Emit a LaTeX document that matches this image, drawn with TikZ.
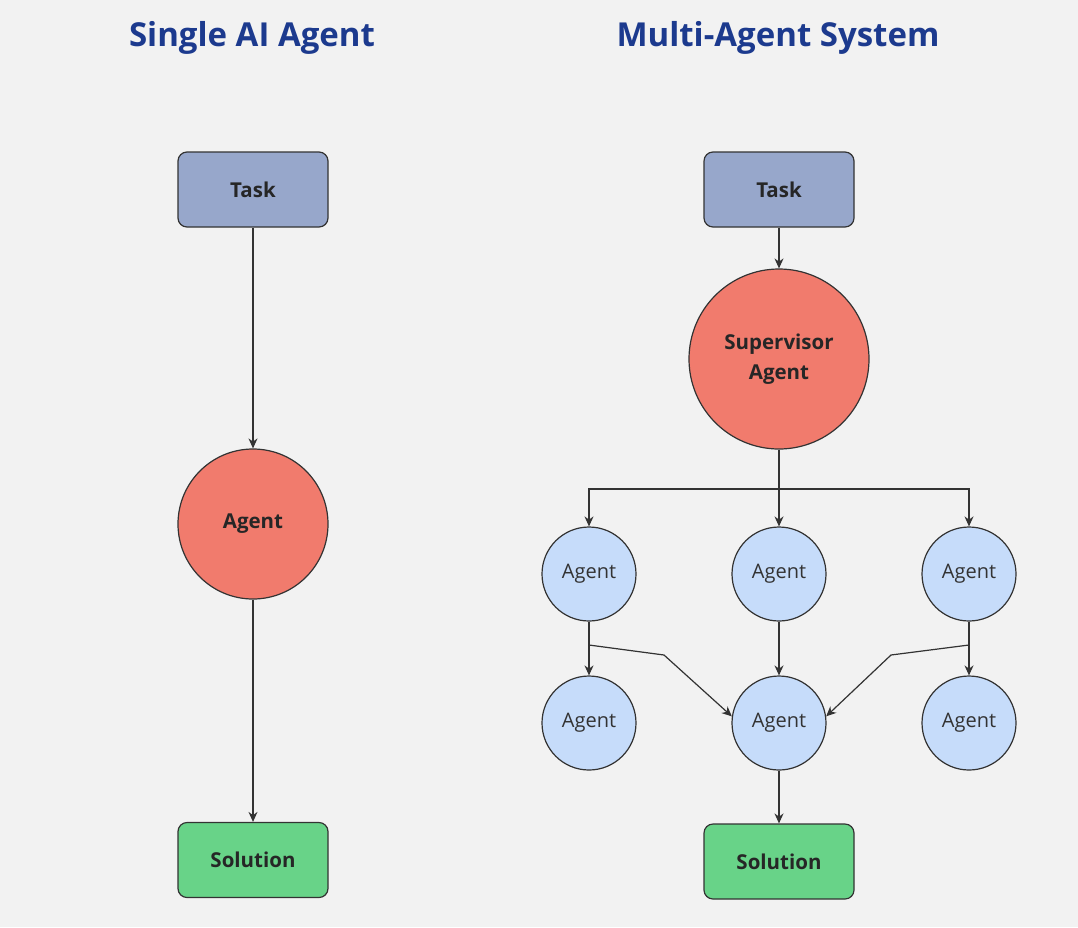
\documentclass[tikz,border=0pt]{standalone}
\usepackage{fontspec}
\setmainfont{Open Sans}
\usetikzlibrary{arrows.meta}
\definecolor{bg}{HTML}{F2F2F2}
\definecolor{taskc}{HTML}{97A7CB}
\definecolor{redc}{HTML}{F17B6D}
\definecolor{greenc}{HTML}{68D388}
\definecolor{bluec}{HTML}{C6DCFA}
\definecolor{titlec}{HTML}{1C3A8E}
\definecolor{linec}{HTML}{333333}
\begin{document}
\begin{tikzpicture}[x=1pt,y=-1pt,
 box/.style={draw=linec,line width=1.2pt,rounded corners=9pt,minimum width=150pt,minimum height=75pt,font=\fontsize{20.5}{24}\selectfont\bfseries,text=black!85},
 big/.style={draw=linec,line width=1.2pt,circle,fill=redc,font=\fontsize{20.5}{30}\selectfont\bfseries,align=center,text=black!85},
 ag/.style={draw=linec,line width=1.2pt,circle,fill=bluec,minimum size=94pt,inner sep=0pt,font=\fontsize{20}{24}\selectfont,text=black!80},
 arr/.style={draw=linec,line width=1.2pt,-{Stealth[length=10pt,width=9pt]}},
 ln/.style={draw=linec,line width=1.2pt},
 title/.style={font=\fontsize{33}{38}\selectfont\bfseries,text=titlec}]
\fill[bg] (0,0) rectangle (1078,927);
\useasboundingbox (0,0) rectangle (1078,927);
\node[title] (t1) at (252,38) {Single AI Agent};
\node[title] (t2) at (778,38) {Multi-Agent System};
% left
\node[box,fill=taskc] (lt) at (253,189.5) {Task};
\node[big,minimum size=150pt,inner sep=0pt] (la) at (253,524) {Agent};
\node[box,fill=greenc] (ls) at (253,860) {Solution};
\draw[arr] (lt) -- (la);
\draw[arr] (la) -- (ls);
% right
\node[box,fill=taskc] (rt) at (779,189.5) {Task};
\node[big,minimum size=180pt,inner sep=0pt] (sup) at (779,359) {Supervisor\\Agent};
\node[ag] (a1) at (589,574) {Agent};
\node[ag] (a2) at (779,574) {Agent};
\node[ag] (a3) at (969,574) {Agent};
\node[ag] (b1) at (589,723) {Agent};
\node[ag] (b2) at (779,723) {Agent};
\node[ag] (b3) at (969,723) {Agent};
\node[box,fill=greenc] (rs) at (779,861.5) {Solution};
\draw[arr] (rt) -- (sup);
\coordinate (j) at (779,489);
\draw[ln] (sup) -- (j);
\draw[arr] (j) -| (a1);
\draw[arr] (j) -- (a2);
\draw[arr] (j) -| (a3);
\draw[arr] (a1) -- (b1);
\draw[arr] (a2) -- (b2);
\draw[arr] (a3) -- (b3);
\coordinate (l1) at (589,645);
\coordinate (l2) at (664,655);
\coordinate (r1) at (969,645);
\coordinate (r2) at (891,655);
\draw[arr] (l1) -- (l2) -- (b2.172);
\draw[arr] (r1) -- (r2) -- (b2.8);
\draw[arr] (b2) -- (rs);
\end{tikzpicture}
\end{document}
